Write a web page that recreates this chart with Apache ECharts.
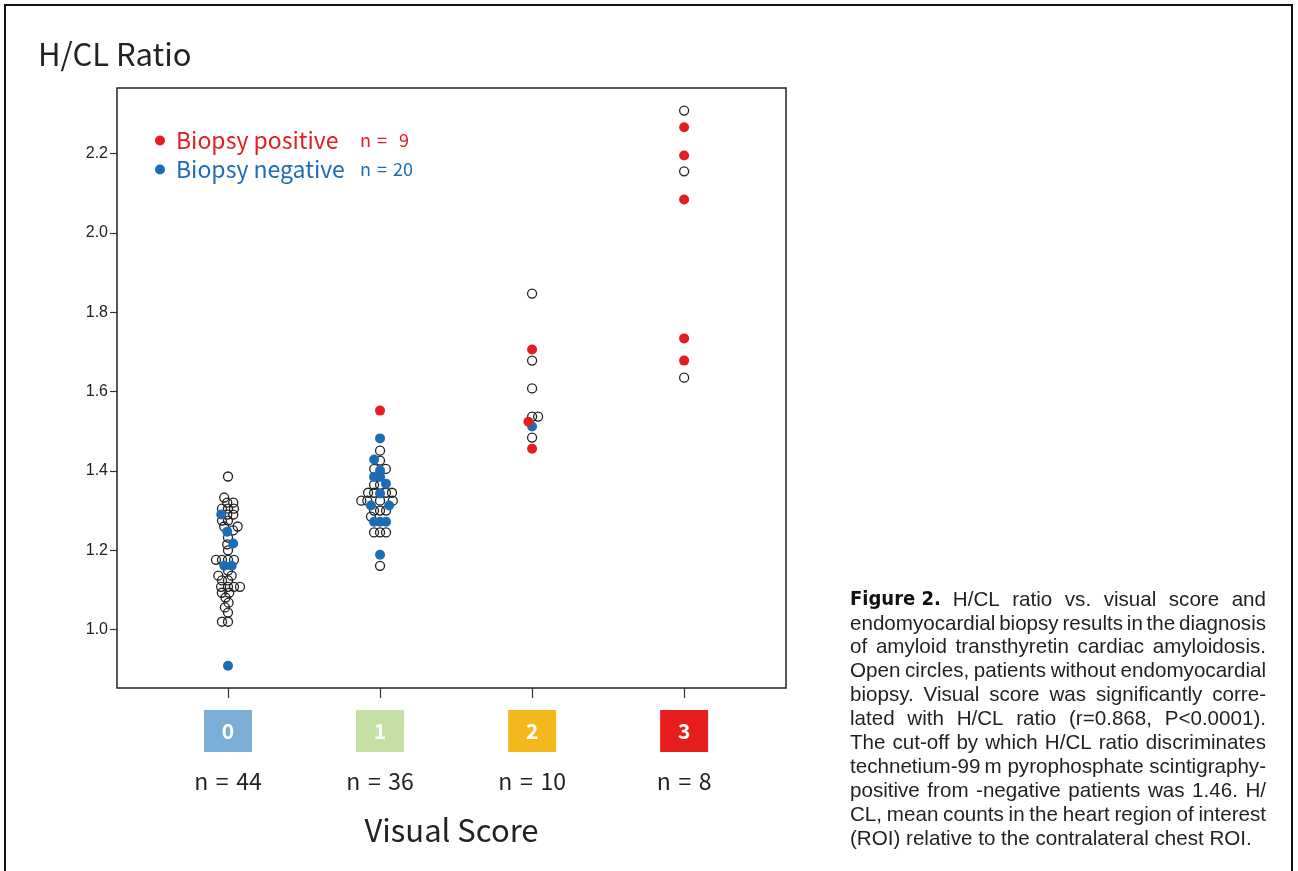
<!DOCTYPE html>
<html><head><meta charset="utf-8">
<script src="https://cdn.jsdelivr.net/npm/echarts@6/dist/echarts.min.js"></script>
<style>html,body{margin:0;padding:0;background:#fff}#c{width:1298px;height:871px}</style>
</head><body><div id="c"></div>
<script>
// ---------------- DATA ----------------
const scores = [0, 1, 2, 3];
const scoreLabels = ['0', '1', '2', '3'];
const scoreColors = ['#7aaed6', '#c4e0a5', '#f2b81c', '#e61f1e'];
const yTicks = [1.0, 1.2, 1.4, 1.6, 1.8, 2.0, 2.2];

// H/CL ratio values per visual score, open circles (no endomyocardial biopsy)
const openScore0 = [1.386, 1.333, 1.32, 1.32, 1.305, 1.305, 1.305, 1.29, 1.29, 1.275, 1.275, 1.26, 1.26, 1.25, 1.232, 1.215, 1.20, 1.176, 1.176, 1.176, 1.176, 1.149, 1.136, 1.136, 1.124, 1.124, 1.108, 1.108, 1.108, 1.108, 1.093, 1.093, 1.081, 1.068, 1.056, 1.043, 1.02, 1.02];
const openScore1 = [1.451, 1.426, 1.405, 1.405, 1.365, 1.365, 1.345, 1.345, 1.345, 1.345, 1.325, 1.325, 1.325, 1.325, 1.30, 1.30, 1.30, 1.285, 1.245, 1.245, 1.245, 1.161];
const openScore2 = [1.847, 1.678, 1.608, 1.537, 1.537, 1.484];
const openScore3 = [2.308, 2.155, 1.635];
// Biopsy negative
const negScore0 = [1.29, 1.247, 1.217, 1.161, 1.161, 0.909];
const negScore1 = [1.482, 1.429, 1.401, 1.385, 1.385, 1.368, 1.343, 1.313, 1.313, 1.272, 1.272, 1.272, 1.189];
const negScore2 = [1.512];
const negScore3 = [];
// Biopsy positive
const posScore0 = [];
const posScore1 = [1.552];
const posScore2 = [1.706, 1.524, 1.456];
const posScore3 = [2.266, 2.195, 2.084, 1.734, 1.678];

const captionLines = [
  'H/CL ratio vs. visual score and',
  'endomyocardial biopsy results in the diagnosis',
  'of amyloid transthyretin cardiac amyloidosis.',
  'Open circles, patients without endomyocardial',
  'biopsy. Visual score was significantly corre-',
  'lated with H/CL ratio (r=0.868, P<0.0001).',
  'The cut-off by which H/CL ratio discriminates',
  'technetium-99\u2009m pyrophosphate scintigraphy-',
  'positive from -negative patients was 1.46. H/',
  'CL, mean counts in the heart region of interest',
  '(ROI) relative to the contralateral chest ROI.'
];
const captionLead = 'Figure 2.';

// ---------------- LAYOUT ----------------
const GRID = {left: 117, top: 88, width: 669, height: 600};
const X_MIN = -0.73, X_MAX = 3.67, Y_MIN = 0.853, Y_MAX = 2.365;
const PX_PER_X = GRID.width / (X_MAX - X_MIN);
const PX_PER_Y = GRID.height / (Y_MAX - Y_MIN);
const SPACING = 6;
const RED = '#e41e20', BLUE = '#1c6db5', INK = '#222';
const JP = "'Noto Sans CJK JP', 'Noto Sans', sans-serif";
const SANS = "'Liberation Sans', Arial, sans-serif";
const SP = '\u2004';

const openBy = [openScore0, openScore1, openScore2, openScore3];
const negBy = [negScore0, negScore1, negScore2, negScore3];
const posBy = [posScore0, posScore1, posScore2, posScore3];
const counts = scores.map(s => openBy[s].length + negBy[s].length + posBy[s].length);
const posCount = posBy.reduce((a, b) => a + b.length, 0);
const negCount = negBy.reduce((a, b) => a + b.length, 0);

// beeswarm placement (deterministic, from values)
function swarm(points) {
  const sorted = points.map((p, i) => Object.assign({}, p, {i})).sort((a, b) => a.v - b.v || a.i - b.i);
  const placed = [];
  sorted.forEach(p => {
    const py = p.v * PX_PER_Y;
    const cands = [0];
    placed.forEach(q => {
      const dy = py - q.py;
      if (Math.abs(dy) < SPACING) {
        const d = Math.sqrt(SPACING * SPACING - dy * dy);
        cands.push(q.px + d, q.px - d);
      }
    });
    cands.sort((a, b) => Math.abs(a) - Math.abs(b) || a - b);
    let px = 0;
    for (const c of cands) {
      if (placed.every(q => { const dx = c - q.px, dy = py - q.py; return dx * dx + dy * dy >= SPACING * SPACING - 1e-6; })) { px = c; break; }
    }
    p.px = px; p.py = py; placed.push(p);
  });
  return sorted;
}

const openData = [], negData = [], posData = [];
scores.forEach(s => {
  const pts = [];
  openBy[s].forEach(v => pts.push({v, k: 'o'}));
  negBy[s].forEach(v => pts.push({v, k: 'n'}));
  posBy[s].forEach(v => pts.push({v, k: 'p'}));
  swarm(pts).forEach(p => {
    const d = [s + p.px / PX_PER_X, p.v];
    (p.k === 'o' ? openData : p.k === 'n' ? negData : posData).push(d);
  });
});

// caption, justified
const mctx = document.createElement('canvas').getContext('2d');
function measure(t, font) { mctx.font = font; return mctx.measureText(t).width; }
const CAP_X = 850, CAP_W = 416, CAP_Y = 600, CAP_LH = 23.9;
const CAP_FS = 20.6, LEAD_FS = 20;
const capFamily = "'Liberation Sans'";
const leadFamily = "'Liberation Sans Narrow', 'DejaVu Sans Condensed'";
const capFont = CAP_FS + "px " + capFamily;
const leadFont = "bold " + LEAD_FS + "px " + leadFamily;
const LEAD_GAP = 12;
const graphics = [];
captionLines.forEach((line, li) => {
  const toks = line.split(' ').map(w => ({t: w, font: capFont, bold: false}));
  const last = li === captionLines.length - 1;
  let x = CAP_X, avail = CAP_W;
  if (li === 0) {
    const lw = measure(captionLead, leadFont);
    graphics.push({
      type: 'text', x: x, y: CAP_Y,
      style: {text: captionLead, fill: '#111', verticalAlign: 'middle', align: 'left',
        fontSize: LEAD_FS, fontWeight: 'bold', fontFamily: leadFamily}
    });
    x += lw + LEAD_GAP; avail -= lw + LEAD_GAP;
  }
  const widths = toks.map(k => measure(k.t, k.font));
  const total = widths.reduce((a, b) => a + b, 0);
  const gap = last ? measure(' ', capFont) : (avail - total) / (toks.length - 1);
  toks.forEach((k, i) => {
    graphics.push({
      type: 'text', x: x, y: CAP_Y + li * CAP_LH,
      style: {text: k.t, fill: '#231f20', verticalAlign: 'middle', align: 'left',
        fontSize: CAP_FS, fontFamily: capFamily}
    });
    x += widths[i] + gap;
  });
});
graphics.push({
  type: 'rect', shape: {x: 5, y: 5, width: 1287, height: 900},
  style: {fill: 'none', stroke: '#111', lineWidth: 2}, silent: true
});

const boxRich = {};
scores.forEach(s => {
  boxRich['s' + s] = {
    width: 48, height: 42, lineHeight: 42, align: 'center', verticalAlign: 'middle',
    backgroundColor: scoreColors[s], color: '#fff', fontSize: 21, fontWeight: 'bold', fontFamily: JP
  };
});
boxRich.n = {fontSize: 23, lineHeight: 58, color: INK, fontFamily: JP};

const chart = echarts.init(document.getElementById('c'), null, {renderer: 'canvas'});
chart.setOption({
  animation: false,
  backgroundColor: '#fff',
  title: {
    text: 'H/CL Ratio', left: 33, top: 34,
    textStyle: {fontSize: 31, fontWeight: 'normal', color: INK, fontFamily: JP}
  },
  grid: Object.assign({show: true, borderColor: INK, borderWidth: 1.5, backgroundColor: 'transparent'}, GRID),
  legend: {
    left: 150, top: 124, orient: 'vertical', itemGap: 6,
    icon: 'circle', itemWidth: 10, itemHeight: 10, selectedMode: false,
    data: ['Biopsy positive', 'Biopsy negative'],
    formatter: name => name === 'Biopsy positive'
      ? '{pa|' + name + '}{pn|n' + SP + '=' + SP + SP + posCount + '}'
      : '{na|' + name + '}{nn|n' + SP + '=' + SP + negCount + '}',
    textStyle: {
      rich: {
        pa: {color: RED, fontSize: 23, fontFamily: JP, width: 184, padding: [0, 0, 0, 6], lineHeight: 25},
        pn: {color: RED, fontSize: 18, fontFamily: JP, lineHeight: 25},
        na: {color: BLUE, fontSize: 23, fontFamily: JP, width: 184, padding: [0, 0, 0, 6], lineHeight: 25},
        nn: {color: BLUE, fontSize: 18, fontFamily: JP, lineHeight: 25}
      }
    }
  },
  xAxis: {
    type: 'value', min: X_MIN, max: X_MAX,
    name: 'Visual Score', nameLocation: 'middle', nameGap: 127,
    nameTextStyle: {fontSize: 31, color: INK, fontFamily: JP},
    splitLine: {show: false}, axisLine: {show: false, onZero: false},
    axisTick: {show: true, customValues: scores, length: 10, lineStyle: {color: '#333', width: 1.2}},
    axisLabel: {
      customValues: scores, margin: 22,
      formatter: v => '{s' + v + '|' + scoreLabels[v] + '}\n{n|n' + SP + '=' + SP + counts[v] + '}',
      rich: boxRich
    }
  },
  yAxis: {
    type: 'value', min: Y_MIN, max: Y_MAX,
    splitLine: {show: false}, axisLine: {show: false, onZero: false},
    axisTick: {show: true, customValues: yTicks, length: 7, lineStyle: {color: '#333', width: 1.2}},
    axisLabel: {customValues: yTicks, margin: 9, formatter: v => v.toFixed(1), fontSize: 16, color: INK, fontFamily: SANS}
  },
  series: [
    {name: 'Without biopsy', type: 'scatter', data: openData, symbol: 'circle', symbolSize: 9,
      itemStyle: {color: 'rgba(0,0,0,0)', borderColor: '#222', borderWidth: 1.3, opacity: 1}, emphasis: {disabled: true}},
    {name: 'Biopsy negative', type: 'scatter', data: negData, symbol: 'circle', symbolSize: 10,
      itemStyle: {color: BLUE, opacity: 1}, emphasis: {disabled: true}},
    {name: 'Biopsy positive', type: 'scatter', data: posData, symbol: 'circle', symbolSize: 10,
      itemStyle: {color: RED, opacity: 1}, emphasis: {disabled: true}}
  ],
  graphic: graphics
});
</script></body></html>
